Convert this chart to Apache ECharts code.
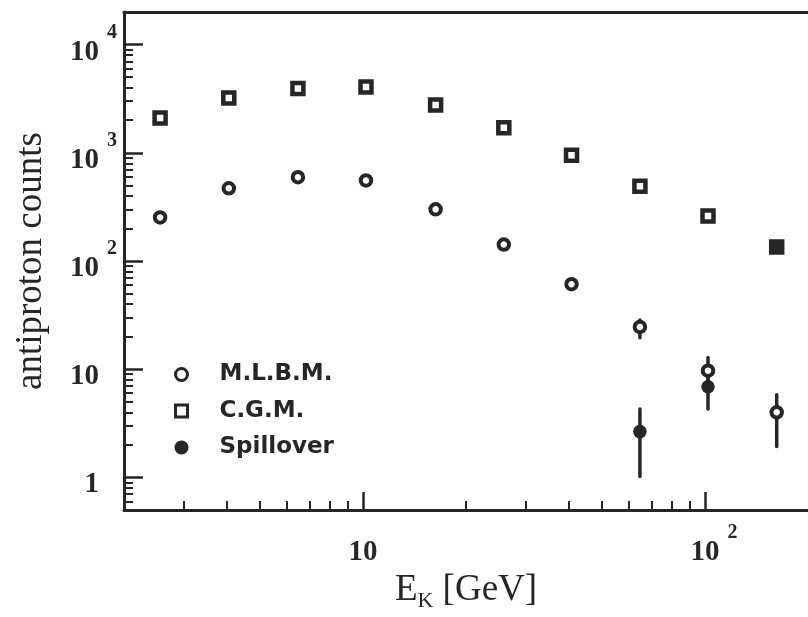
<!DOCTYPE html>
<html>
<head>
<meta charset="utf-8">
<script src="https://cdn.jsdelivr.net/npm/echarts@6/dist/echarts.min.js"></script>
<style>
  html, body { margin: 0; padding: 0; background: #ffffff; }
  #chart { width: 808px; height: 617px; }
</style>
</head>
<body>
<div id="chart"></div>
<script>
// Kinetic-energy bins [GeV] and antiproton counts per method
const energies = [2.55, 4.05, 6.45, 10.2, 16.3, 25.8, 40.7, 64.5, 102, 162];
const mlbmCounts = [253, 470, 595, 555, 300, 142, 61, 24.6, 9.7, 4.0];
const cgmCounts = [2100, 3200, 3930, 4050, 2770, 1700, 950, 490, 260, 135];
const spillEnergies = [64.5, 102, 162];
const spillCounts = [2.65, 6.9, 135];

// Error bars: [energy, lower, upper]
const mlbmErrors = [[64.5, 19.5, 28.5], [102, 7.0, 12.8], [162, 1.93, 5.8]];
const spillErrors = [[64.5, 1.02, 4.3], [102, 4.3, 9.5]];

// Tick positions
const xMajorTicks = [10, 100];
const xMinorTicks = [3, 4, 5, 6, 7, 8, 9, 20, 30, 40, 50, 60, 70, 80, 90];
const yMajorTicks = [1, 10, 100, 1000, 10000];
const yMinorTicks = [0.6, 0.7, 0.8, 0.9,
  2, 3, 4, 5, 6, 7, 8, 9,
  20, 30, 40, 50, 60, 70, 80, 90,
  200, 300, 400, 500, 600, 700, 800, 900,
  2000, 3000, 4000, 5000, 6000, 7000, 8000, 9000];

const legendNames = ['M.L.B.M.', 'C.G.M.', 'Spillover'];

const INK = '#262626';
const SERIF = '"Liberation Serif", "Times New Roman", serif';

const tickRich = {
  b: { fontFamily: SERIF, fontWeight: 'bold', fontSize: 29, lineHeight: 44, verticalAlign: 'bottom', color: INK },
  s: { fontFamily: SERIF, fontWeight: 'bold', fontSize: 20, lineHeight: 20, verticalAlign: 'top', padding: [0, 0, 0, 8], color: INK },
  h: { fontFamily: SERIF, fontWeight: 'bold', fontSize: 20, lineHeight: 20, verticalAlign: 'top', padding: [0, 0, 0, 8], color: 'transparent' },
  hl: { fontFamily: SERIF, fontWeight: 'bold', fontSize: 20, lineHeight: 20, verticalAlign: 'top', padding: [0, 8, 0, 0], color: 'transparent' }
};

function powerLabel(v) {
  const e = Math.round(Math.log10(v));
  if (e === 0) return '{b|1}{h|4}';
  if (e === 1) return '{b|10}{h|4}';
  return '{b|10}{s|' + e + '}';
}
function powerLabelCentered(v) {
  return '{hl|4}' + powerLabel(v);
}

function errorBarRender(params, api) {
  const x = api.value(0);
  const lo = api.coord([x, api.value(1)]);
  const hi = api.coord([x, api.value(2)]);
  return {
    type: 'line',
    shape: { x1: lo[0], y1: lo[1], x2: hi[0], y2: hi[1] },
    style: { stroke: INK, lineWidth: 3.5, lineCap: 'round' }
  };
}

const chart = echarts.init(document.getElementById('chart'), null, { renderer: 'canvas' });

const option = {
  backgroundColor: '#ffffff',
  animation: false,
  grid: { left: 124, top: 12, right: -4, bottom: 107 },
  legend: {
    data: [
      { name: legendNames[0], icon: 'circle', itemStyle: { color: '#ffffff', borderColor: INK, borderWidth: 3, opacity: 1 } },
      { name: legendNames[1], icon: 'rect', itemStyle: { color: '#ffffff', borderColor: INK, borderWidth: 3, opacity: 1 } },
      { name: legendNames[2], icon: 'circle', itemStyle: { color: INK, borderColor: INK, borderWidth: 2, opacity: 1 } }
    ],
    orient: 'vertical',
    left: 169,
    top: 358,
    itemWidth: 12,
    itemHeight: 12,
    itemGap: 13.5,
    selectedMode: false,
    textStyle: {
      fontFamily: '"DejaVu Sans", sans-serif',
      fontWeight: 'bold',
      fontSize: 23,
      color: INK,
      padding: [0, 0, 0, 27]
    }
  },
  xAxis: [
    {
      type: 'log', logBase: 10, min: 2, max: 200,
      gridIndex: 0, position: 'bottom',
      axisLine: { show: true, onZero: false, lineStyle: { color: INK, width: 3 } },
      axisTick: { show: true, inside: true, length: 18, customValues: xMajorTicks, lineStyle: { color: INK, width: 2.5 } },
      axisLabel: { customValues: xMajorTicks, formatter: powerLabelCentered, rich: tickRich, margin: 13 },
      splitLine: { show: false },
      name: '{e|E}{k|K}{e| [GeV]}',
      nameLocation: 'middle',
      nameGap: 56,
      nameTextStyle: {
        rich: {
          e: { fontFamily: SERIF, fontSize: 37, lineHeight: 40, verticalAlign: 'top', color: INK },
          k: { fontFamily: SERIF, fontSize: 22, lineHeight: 18, verticalAlign: 'bottom', color: INK }
        }
      }
    },
    {
      type: 'log', logBase: 10, min: 2, max: 200,
      gridIndex: 0, position: 'bottom',
      axisLine: { show: false, onZero: false },
      axisTick: { show: true, inside: true, length: 9, customValues: xMinorTicks, lineStyle: { color: INK, width: 2 } },
      axisLabel: { show: false },
      splitLine: { show: false }
    },
    {
      // top frame line
      type: 'log', logBase: 10, min: 2, max: 200,
      gridIndex: 0, position: 'top',
      axisLine: { show: true, onZero: false, lineStyle: { color: INK, width: 3 } },
      axisTick: { show: false },
      axisLabel: { show: false },
      splitLine: { show: false }
    }
  ],
  yAxis: [
    {
      type: 'log', logBase: 10, min: 0.5, max: 20000,
      gridIndex: 0, position: 'left',
      axisLine: { show: true, onZero: false, lineStyle: { color: INK, width: 3 } },
      axisTick: { show: true, inside: true, length: 19, customValues: yMajorTicks, lineStyle: { color: INK, width: 2.5 } },
      axisLabel: { customValues: yMajorTicks, formatter: powerLabel, rich: tickRich, margin: 7 },
      splitLine: { show: false },
      name: 'antiproton counts',
      nameLocation: 'middle',
      nameGap: 74,
      nameTextStyle: { fontFamily: SERIF, fontSize: 37, color: INK }
    },
    {
      type: 'log', logBase: 10, min: 0.5, max: 20000,
      gridIndex: 0, position: 'left',
      axisLine: { show: false, onZero: false },
      axisTick: { show: true, inside: true, length: 9, customValues: yMinorTicks, lineStyle: { color: INK, width: 2 } },
      axisLabel: { show: false },
      splitLine: { show: false }
    }
  ],
  series: [
    {
      name: 'mlbm-errors',
      type: 'custom',
      xAxisIndex: 0, yAxisIndex: 0,
      renderItem: errorBarRender,
      encode: { x: 0, y: [1, 2] },
      data: mlbmErrors,
      z: 1,
      silent: true
    },
    {
      name: 'spill-errors',
      type: 'custom',
      xAxisIndex: 0, yAxisIndex: 0,
      renderItem: errorBarRender,
      encode: { x: 0, y: [1, 2] },
      data: spillErrors,
      z: 1,
      silent: true
    },
    {
      name: legendNames[1],
      type: 'scatter',
      xAxisIndex: 0, yAxisIndex: 0,
      symbol: 'rect',
      symbolSize: 11,
      itemStyle: { color: '#ffffff', borderColor: INK, borderWidth: 4.5, opacity: 1 },
      data: energies.map((e, i) => [e, cgmCounts[i]]),
      z: 2
    },
    {
      name: legendNames[0],
      type: 'scatter',
      xAxisIndex: 0, yAxisIndex: 0,
      symbol: 'circle',
      symbolSize: 10.5,
      itemStyle: { color: '#ffffff', borderColor: INK, borderWidth: 4, opacity: 1 },
      data: energies.map((e, i) => [e, mlbmCounts[i]]),
      z: 3
    },
    {
      name: legendNames[2],
      type: 'scatter',
      xAxisIndex: 0, yAxisIndex: 0,
      symbol: 'circle',
      symbolSize: 13.5,
      itemStyle: { color: INK, borderWidth: 0, opacity: 1 },
      data: spillEnergies.map((e, i) => [e, spillCounts[i]]),
      z: 4
    }
  ]
};

chart.setOption(option);
</script>
</body>
</html>
